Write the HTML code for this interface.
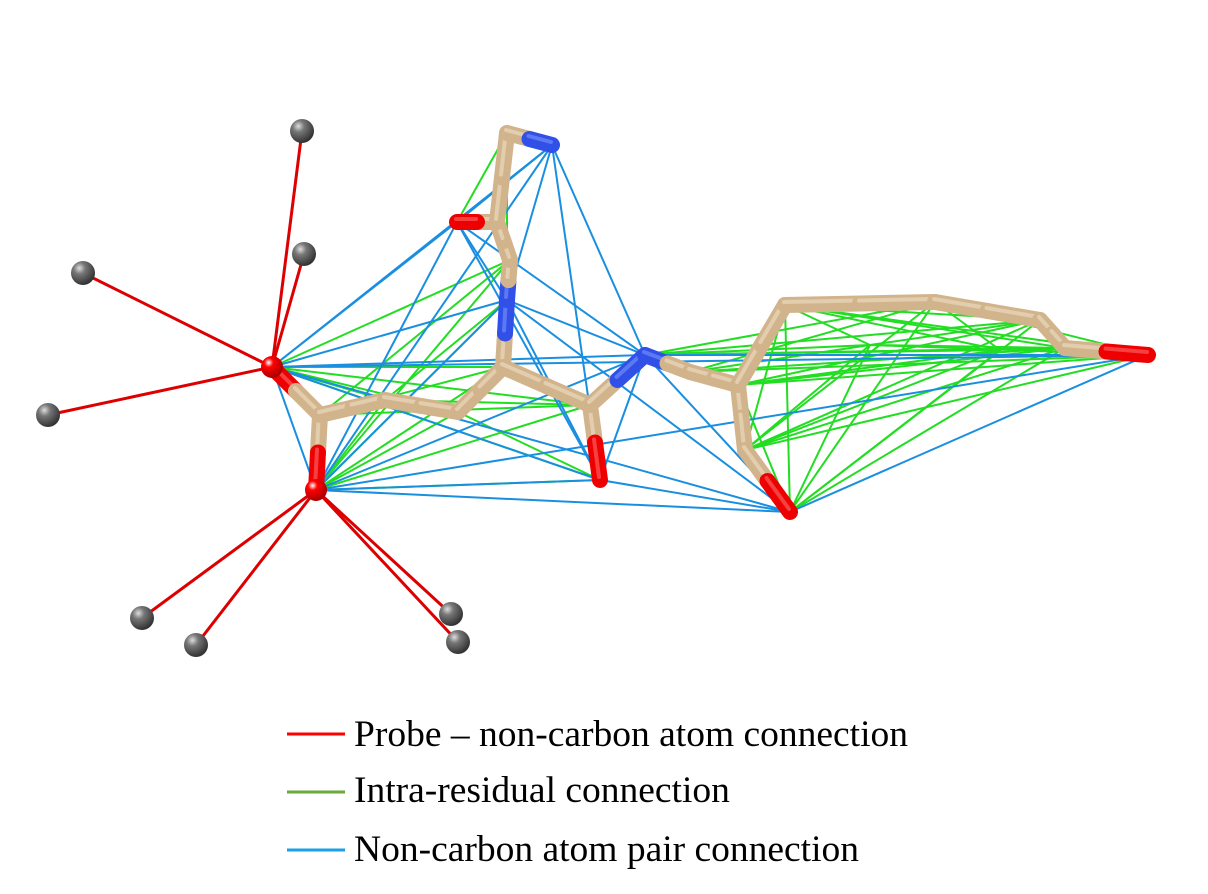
<!DOCTYPE html>
<html><head><meta charset="utf-8"><style>
body{margin:0;background:#fff;width:1208px;height:894px;overflow:hidden}
svg{display:block}
.lg{font-family:"Liberation Serif",serif;font-size:37.5px;fill:#000}
</style></head><body>
<svg id="fig" width="1208" height="894" viewBox="0 0 1208 894">
<defs>
<radialGradient id="gs" cx="0.35" cy="0.3" r="0.7"><stop offset="0" stop-color="#ddd"/><stop offset="0.35" stop-color="#777"/><stop offset="1" stop-color="#333"/></radialGradient>
<radialGradient id="rs" cx="0.35" cy="0.3" r="0.7"><stop offset="0" stop-color="#fff"/><stop offset="0.3" stop-color="#f00"/><stop offset="1" stop-color="#a00"/></radialGradient>
</defs>
<g id="links"></g><g id="bonds"></g><g id="atoms"></g>
<g>
<line x1="287" y1="734" x2="345" y2="734" stroke="#f00" stroke-width="3"/>
<text class="lg" x="354" y="746">Probe – non-carbon atom connection</text>
<line x1="287" y1="792" x2="345" y2="792" stroke="#6aaa3a" stroke-width="3"/>
<text class="lg" x="354" y="802">Intra-residual connection</text>
<line x1="287" y1="850" x2="345" y2="850" stroke="#1aa0e8" stroke-width="3"/>
<text class="lg" x="354" y="861">Non-carbon atom pair connection</text>
</g>
</svg>
<script>
const atomX=[272,316,320,385,458,503,507,510,457,497,507,552,590,600,645,690,738,745,790,785,935,1040,1065,1148,870,1000];
const atomY=[367,490,415,400,412,367,300,260,222,222,133,145,405,480,355,372,385,450,512,305,302,320,348,355,345,350];
const atomType=["O","O","C","C","C","C","N","C","O","C","C","N","C","O","N","C","C","C","O","C","C","C","C","O","C","C"];
const probeX=[302,304,83,48,142,196,451,458];
const probeY=[131,254,273,415,618,645,614,642];
const probeTarget=[0,0,0,0,1,1,1,1];
const bonds=[[0,2],[2,1],[2,3],[3,4],[4,5],[5,6],[6,7],[7,9],[9,8],[9,10],[10,11],[5,12],[12,13],[12,14],[14,15],[15,16],[16,17],[17,18],[16,19],[19,20],[20,21],[21,22],[22,23]];
const bluePairs=[[0,8],[0,11],[0,6],[0,14],[0,13],[0,23],[0,1],[0,18],[1,8],[1,11],[1,6],[1,14],[1,13],[1,18],[8,11],[8,14],[8,6],[8,13],[11,6],[11,14],[11,13],[6,14],[6,13],[6,18],[14,23],[14,18],[13,18],[18,23],[13,14],[1,23]];
const greenPairs=[[0,4],[0,5],[0,3],[0,12],[0,7],[1,4],[1,5],[1,3],[1,12],[1,7],[1,6],[0,13],[1,13],[2,5],[2,12],[3,12],[3,6],[4,13],[2,7],[8,10],[8,11],[6,10],
[14,20],[14,21],[14,22],[14,23],[14,24],[14,25],[15,20],[15,22],[15,23],[15,24],[16,21],[16,22],[16,23],[16,25],[17,19],[17,20],[17,21],[17,22],[17,23],[17,24],[17,25],[18,19],[18,20],[18,21],[18,22],[18,24],[18,25],[19,21],[19,22],[19,23],[19,25],[20,23],[24,23],[24,22],[18,16],[19,24],[20,25],[24,21]];
const NS='http://www.w3.org/2000/svg';
const L=document.getElementById('links'),B=document.getElementById('bonds'),A=document.getElementById('atoms');
function ln(g,x1,y1,x2,y2,c,w){const e=document.createElementNS(NS,'line');e.setAttribute('x1',x1);e.setAttribute('y1',y1);e.setAttribute('x2',x2);e.setAttribute('y2',y2);e.setAttribute('stroke',c);e.setAttribute('stroke-width',w);e.setAttribute('stroke-linecap','round');g.appendChild(e);return e;}
greenPairs.forEach(p=>{const e=ln(L,atomX[p[0]],atomY[p[0]],atomX[p[1]],atomY[p[1]],'#22dd22',2);

});
bluePairs.forEach(p=>{const e=ln(L,atomX[p[0]],atomY[p[0]],atomX[p[1]],atomY[p[1]],'#1a8fe0',2);

});
probeX.forEach((x,i)=>{const t=probeTarget[i];const e=ln(L,x,probeY[i],atomX[t],atomY[t],'#dd0000',3);

});
const col={C:'#d2b48c',N:'#3050e8',O:'#ee0000'},hi={C:'#f3e6d0',N:'#8aa0ff',O:'#ff8080'};
bonds.forEach(p=>{const a=p[0],b=p[1];const mx=(atomX[a]+atomX[b])/2,my=(atomY[a]+atomY[b])/2;
[[a,mx,my],[b,mx,my]].forEach(s=>{const t=atomType[s[0]];
const e=ln(B,atomX[s[0]],atomY[s[0]],s[1],s[2],col[t],16);


ln(B,atomX[s[0]]-1,atomY[s[0]]-3,s[1]-1,s[2]-3,hi[t],4).setAttribute('opacity','0.5');});});
[0,1].forEach(i=>{const c=document.createElementNS(NS,'circle');c.setAttribute('cx',atomX[i]);c.setAttribute('cy',atomY[i]);c.setAttribute('r',11);c.setAttribute('fill','url(#rs)');

A.appendChild(c);});
probeX.forEach((x,i)=>{const c=document.createElementNS(NS,'circle');c.setAttribute('cx',x);c.setAttribute('cy',probeY[i]);c.setAttribute('r',12);c.setAttribute('fill','url(#gs)');

A.appendChild(c);});
</script>
</body></html>
